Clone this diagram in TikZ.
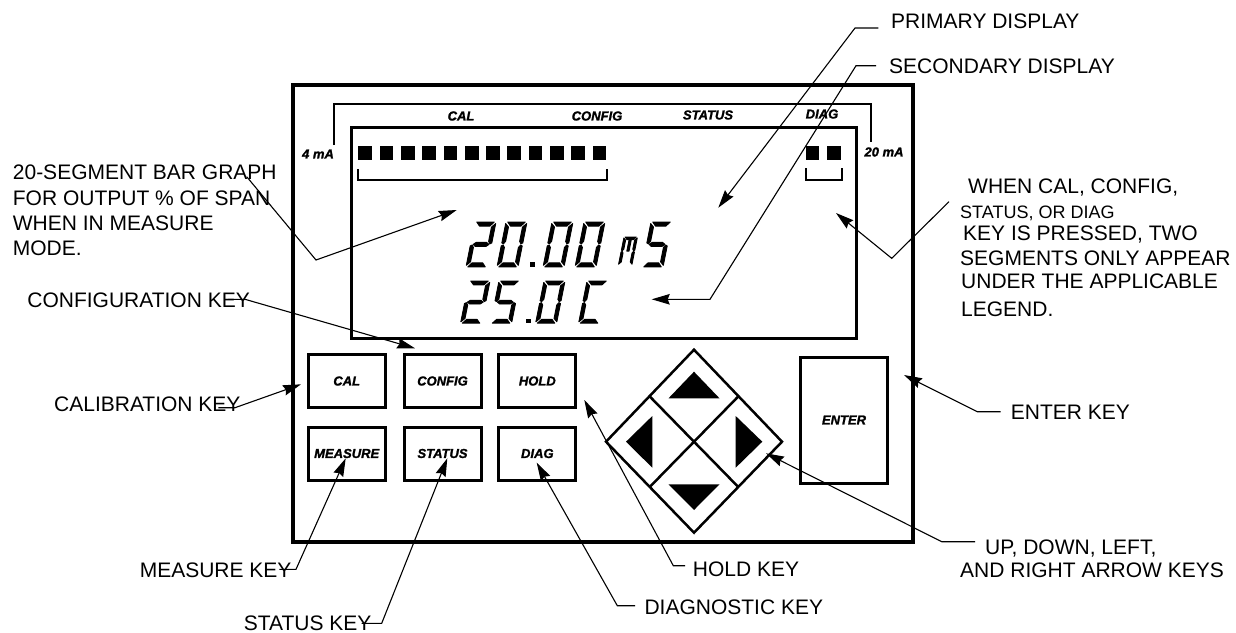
\documentclass[tikz,border=0pt]{standalone}
\usepackage{fontspec}
\setmainfont{Liberation Sans}
\newfontfamily\keyfont[BoldItalicFeatures={FakeBold=1.5}]{Liberation Sans}
\usetikzlibrary{arrows.meta}

\tikzset{
    lbl/.style={anchor=base west, inner sep=0pt, font=\fontsize{21}{25.3}\selectfont},
    lblr/.style={anchor=base east, inner sep=0pt, font=\fontsize{21}{25.3}\selectfont},
    legendtxt/.style={inner sep=0pt, font=\fontsize{13}{15}\selectfont\keyfont\bfseries\itshape},
    keybox/.style={draw, line width=3pt, minimum width=77pt, minimum height=53pt, inner sep=0pt, font=\fontsize{13}{15}\selectfont\keyfont\bfseries\itshape},
    leader/.style={line width=1.1pt, -{Stealth[length=18pt, width=10.5pt, inset=2pt]}},
    pics/sega/.style={code={\filldraw (2,0) -- (22,0) -- (18,4) -- (6,4) -- cycle;}},
    pics/segb/.style={code={\filldraw (24,1.5) -- (24,20.5) -- (22,21.5) -- (20,19) -- (20,5) -- cycle;}},
    pics/segc/.style={code={\filldraw (24,42.5) -- (24,23.5) -- (22,22.5) -- (20,25) -- (20,39) -- cycle;}},
    pics/segd/.style={code={\filldraw (2,44) -- (22,44) -- (18,40) -- (6,40) -- cycle;}},
    pics/sege/.style={code={\filldraw (0,42.5) -- (0,23.5) -- (2,22.5) -- (4,25) -- (4,39) -- cycle;}},
    pics/segf/.style={code={\filldraw (0,1.5) -- (0,20.5) -- (2,21.5) -- (4,19) -- (4,5) -- cycle;}},
    pics/segg/.style={code={\filldraw (3,22) -- (6,20) -- (18,20) -- (21,22) -- (18,24) -- (6,24) -- cycle;}},
    pics/segm/.style={code={\filldraw (10,5) -- (14,5) -- (14,22) -- (10,22) -- cycle;}},
}

\newcommand{\lcdglyph}[5]{%
    \begin{scope}[shift={(#1,#2)}, xslant=0.2, xscale=#3, yscale=#4, line width=0.9pt, line join=round]
        \foreach \s in {#5} {\pic[transform shape] {seg\s};}
    \end{scope}}

\begin{document}
\begin{tikzpicture}[x=1pt, y=-1pt]
    \useasboundingbox (0,0) rectangle (1236,632);

    % housing and display
    \node[draw, line width=4pt, minimum width=620pt, minimum height=457pt] (housing) at (603,313.5) {};
    \node[draw, line width=3pt, minimum width=505.5pt, minimum height=211pt] (lcd) at (604.2,232.5) {};

    % bar graph
    \draw[line width=1.6pt] (334,145) |- (871,104) -- (871,142);
    \foreach \i in {0,...,11} {
        \fill (358.3+21.3*\i,146) rectangle +(13.7,14);
    }
    \fill (805.7,146) rectangle +(13.7,14);
    \fill (827.3,146) rectangle +(13.7,14);
    \draw[line width=1.6pt] (357.7,169.3) |- (606.7,180) -- (606.7,169.3);
    \draw[line width=1.6pt] (805.7,168) |- (841.7,180) -- (841.7,168);

    \node[legendtxt] (legcal) at (461,116) {CAL};
    \node[legendtxt] (legconfig) at (597,116) {CONFIG};
    \node[legendtxt] (legstatus) at (708,115) {STATUS};
    \node[legendtxt] (legdiag) at (822,114) {DIAG};
    \node[legendtxt] (legfour) at (318,154) {4 mA};
    \node[legendtxt] (legtwenty) at (884,152) {20 mA};

    % readings
    \lcdglyph{475}{222}{0.875}{1.02}{a,b,g,e,d}
    \lcdglyph{506}{222}{0.875}{1.02}{a,b,c,d,e,f}
    \fill (530,262) rectangle (535,266.5);
    \lcdglyph{552}{222}{0.875}{1.02}{a,b,c,d,e,f}
    \lcdglyph{584}{222}{0.875}{1.02}{a,b,c,d,e,f}
    \lcdglyph{624}{237}{0.56}{0.64}{a,b,c,e,f,m}
    \lcdglyph{651}{222}{0.875}{1.02}{a,f,g,c,d}
    \lcdglyph{469}{281}{0.875}{0.96}{a,b,g,e,d}
    \lcdglyph{499}{281}{0.875}{0.96}{a,f,g,c,d}
    \fill (526,319) rectangle (531,323);
    \lcdglyph{544}{281}{0.875}{0.96}{a,b,c,d,e,f}
    \lcdglyph{587}{281}{0.875}{0.96}{a,f,e,d}

    % keys
    \node[keybox] (keycal) at (346.7,381) {CAL};
    \node[keybox] (keyconfig) at (442.5,381) {CONFIG};
    \node[keybox] (keyhold) at (537.3,381) {HOLD};
    \node[keybox] (keymeasure) at (346.7,453.5) {MEASURE};
    \node[keybox] (keystatus) at (442.5,453.5) {STATUS};
    \node[keybox] (keydiag) at (537.3,453.5) {DIAG};
    \node[keybox, minimum width=87pt, minimum height=126pt] (keyenter) at (844,420) {ENTER};

    \begin{scope}[shift={(694,441.7)}]
        \draw[line width=2.5pt] (0,-92) -- (88,0) -- (0,91) -- (-88,0) -- cycle;
        \draw[line width=2.5pt] (-44,-45) -- (44,45);
        \draw[line width=2.5pt] (44,-45) -- (-44,45);
        \fill (0,-70) -- (25.5,-43.4) -- (-25.5,-43.4) -- cycle;
        \fill (0,68.3) -- (25.5,42.6) -- (-25.5,42.6) -- cycle;
        \fill (-68,0) -- (-41.7,-25.7) -- (-41.7,26) -- cycle;
        \fill (68.3,0) -- (41.7,-25.7) -- (41.7,26) -- cycle;
    \end{scope}

    % labels
    \node[lbl] (lblprimary) at (891,28.2) {PRIMARY DISPLAY};
    \node[lbl] (lblsecondary) at (889,73.5) {SECONDARY DISPLAY};
    \node[lbl] (lblwhen) at (968,193.5) {WHEN CAL, CONFIG,};
    \node[lbl, font=\fontsize{18}{20}\selectfont] (lblor) at (960,218.3) {STATUS, OR DIAG};
    \node[lbl] (lblpressed) at (963,240.7) {KEY IS PRESSED, TWO};
    \node[lbl] (lblsegments) at (960,265) {SEGMENTS ONLY APPEAR};
    \node[lbl] (lblunder) at (961,288.3) {UNDER THE APPLICABLE};
    \node[lbl] (lbllegend) at (961,316.7) {LEGEND.};
    \node[lbl, anchor=north west, align=left] (lblbar) at (12.7,165) {20-SEGMENT BAR GRAPH\\FOR OUTPUT \% OF SPAN\\WHEN IN MEASURE\\MODE.};
    \node[lblr] (lblconfig) at (250,307.3) {CONFIGURATION KEY};
    \node[lblr] (lblcal) at (240.7,411.7) {CALIBRATION KEY};
    \node[lblr] (lblmeasure) at (291.7,577.3) {MEASURE KEY};
    \node[lblr] (lblstatus) at (371.7,630) {STATUS KEY};
    \node[lbl] (lbldiag) at (644.3,614) {DIAGNOSTIC KEY};
    \node[lbl] (lblhold) at (692.7,576) {HOLD KEY};
    \node[lbl] (lblup) at (985,554) {UP, DOWN, LEFT,};
    \node[lbl] (lblarrows) at (960,577.3) {AND RIGHT ARROW KEYS};
    \node[lbl] (lblenter) at (1010.7,419.3) {ENTER KEY};

    % leaders
    \coordinate (kneeprimary) at (855,28);
    \coordinate (tipprimary) at (718.3,207.7);
    \draw[leader] ([xshift=-12.7pt]lblprimary.west |- kneeprimary) -- (kneeprimary) -- (tipprimary);
    \coordinate (kneesecondary) at (856,65.7);
    \coordinate (bendsecondary) at (710,299.3);
    \coordinate (tipsecondary) at (651.7,299.3);
    \draw[leader] ([xshift=-13pt]lblsecondary.west |- kneesecondary) -- (kneesecondary) -- (bendsecondary) -- (tipsecondary);
    \coordinate (startwhen) at (949,201.7);
    \coordinate (kneewhen) at (891.7,258.3);
    \coordinate (tipwhen) at (836,213);
    \draw[leader] (startwhen) -- (kneewhen) -- (tipwhen);
    \coordinate (startbar) at (246.7,176.7);
    \coordinate (kneebar) at (316,260);
    \coordinate (tipbar) at (456.7,210);
    \draw[leader] (startbar) -- (kneebar) -- (tipbar);
    \coordinate (kneeconfig) at (245,299.3);
    \coordinate (tipconfig) at (415,348.3);
    \draw[leader] ([xshift=-22pt]lblconfig.east |- kneeconfig) -- (kneeconfig) -- (tipconfig);
    \coordinate (kneecal) at (235,407.7);
    \coordinate (tipcal) at (301,384.3);
    \draw[leader] ([xshift=-22.4pt]lblcal.east |- kneecal) -- (kneecal) -- (tipcal);
    \coordinate (kneemeasure) at (296,569.3);
    \coordinate (tipmeasure) at (345.7,458.3);
    \draw[leader] ([xshift=-12.4pt]lblmeasure.east |- kneemeasure) -- (kneemeasure) -- (tipmeasure);
    \coordinate (kneestatus) at (381.7,623.3);
    \coordinate (tipstatus) at (447.3,458.3);
    \draw[leader] ([xshift=-10pt]lblstatus.east |- kneestatus) -- (kneestatus) -- (tipstatus);
    \coordinate (kneediag) at (617.3,605.7);
    \coordinate (tipdiag) at (536.7,462.7);
    \draw[leader] ([xshift=-9.3pt]lbldiag.west |- kneediag) -- (kneediag) -- (tipdiag);
    \coordinate (kneehold) at (673.3,565.7);
    \coordinate (tiphold) at (584.3,400);
    \draw[leader] ([xshift=-7.7pt]lblhold.west |- kneehold) -- (kneehold) -- (tiphold);
    \coordinate (kneeup) at (941.7,541.7);
    \coordinate (tipup) at (766,453.3);
    \draw[leader] ([xshift=-10pt]lblup.west |- kneeup) -- (kneeup) -- (tipup);
    \coordinate (kneeenter) at (977.3,411.7);
    \coordinate (tipenter) at (904,375);
    \draw[leader] ([xshift=-10pt]lblenter.west |- kneeenter) -- (kneeenter) -- (tipenter);
\end{tikzpicture}
\end{document}
